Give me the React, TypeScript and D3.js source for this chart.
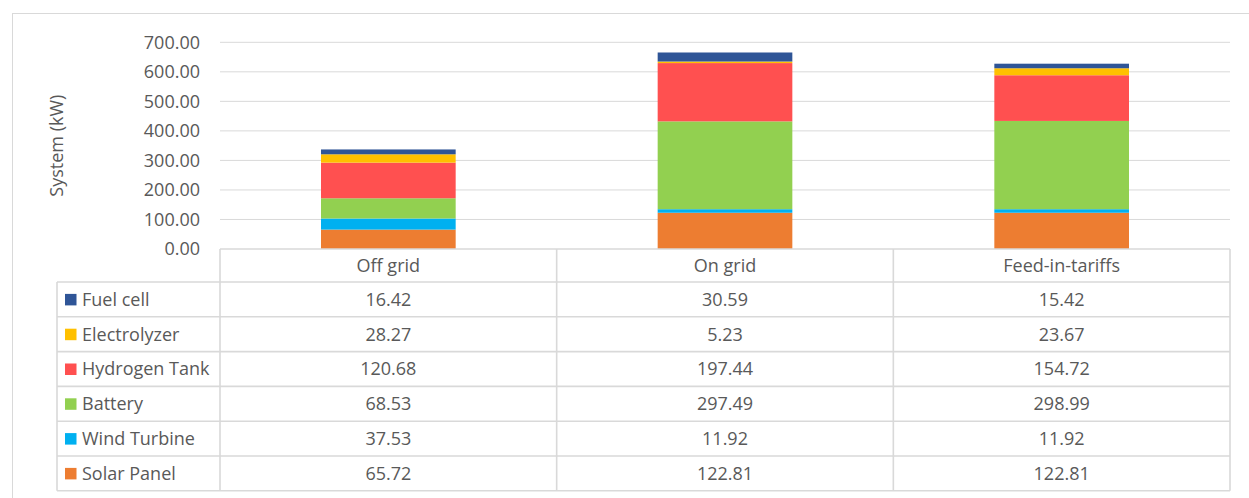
import React from "react";
import * as d3 from "d3";

const categories = ["Off grid", "On grid", "Feed-in-tariffs"];
const seriesNames = ["Solar Panel", "Wind Turbine", "Battery", "Hydrogen Tank", "Electrolyzer", "Fuel cell"];
const solarPanel = [65.72, 122.81, 122.81];
const windTurbine = [37.53, 11.92, 11.92];
const battery = [68.53, 297.49, 298.99];
const hydrogenTank = [120.68, 197.44, 154.72];
const electrolyzer = [28.27, 5.23, 23.67];
const fuelCell = [16.42, 30.59, 15.42];
const yTicks = [0, 100, 200, 300, 400, 500, 600, 700];
const colors = ["#ED7D31", "#00B0F0", "#92D050", "#FF5050", "#FFC000", "#2F5597"];

const seriesValues = [solarPanel, windTurbine, battery, hydrogenTank, electrolyzer, fuelCell];

export default function App() {
  const W = 1249, H = 498;
  const plotL = 220, plotR = 1230, y0 = 249, yTop = 42.3;
  const tableL = 57, headerH = 33, rowH = 34.8;
  const font = "'Open Sans', sans-serif";
  const fs = 18;
  const txt = "#595959";
  const grid = "#D9D9D9";

  const x = d3.scaleBand<string>().domain(categories).range([plotL, plotR]).paddingInner(0.6).paddingOuter(0.3);
  const y = d3.scaleLinear().domain([0, 700]).range([y0, yTop]);
  const colX = d3.scaleBand<string>().domain(categories).range([plotL, plotR]);

  const table = categories.map((c, i) => {
    const o: any = { cat: c };
    seriesNames.forEach((s, j) => (o[s] = seriesValues[j][i]));
    return o;
  });
  const stacked = d3.stack<any>().keys(seriesNames)(table);

  const rowsOrder = seriesNames.slice().reverse();
  const rowTop = (k: number) => y0 + headerH + k * rowH;
  const tableBottom = rowTop(rowsOrder.length);

  return (
    <svg width={W} height={H} style={{ position: "absolute", left: 0, top: 0 }} fontFamily={font}>
      <rect x={0} y={0} width={W} height={H} fill="#fff" />
      <rect x={12.5} y={13.5} width={W + 20} height={H + 20} fill="none" stroke={grid} strokeWidth={1} />
      {yTicks.filter((t) => t > 0).map((t) => (
        <line key={t} x1={plotL} x2={plotR} y1={y(t)} y2={y(t)} stroke={grid} strokeWidth={1} />
      ))}
      {yTicks.map((t) => (
        <text key={t} x={200} y={y(t)} dy="0.35em" textAnchor="end" fontSize={fs} fill={txt}>
          {t.toFixed(2)}
        </text>
      ))}
      <text transform={`translate(63,${(yTop + y0) / 2}) rotate(-90)`} textAnchor="middle" fontSize={fs} fill={txt}>
        System (kW)
      </text>
      {stacked.map((layer, j) => (
        <g key={layer.key} fill={colors[j]}>
          {layer.map((d, i) => (
            <rect key={i} x={x(categories[i])} width={x.bandwidth()} y={y(d[1])} height={y(d[0]) - y(d[1])} />
          ))}
        </g>
      ))}
      {/* table lines */}
      <g stroke={grid} strokeWidth={1.6} fill="none">
        <line x1={plotL} x2={plotR} y1={y0} y2={y0} />
        {rowsOrder.map((_, k) => (
          <line key={k} x1={tableL} x2={plotR} y1={rowTop(k)} y2={rowTop(k)} />
        ))}
        <line x1={tableL} x2={plotR} y1={tableBottom} y2={tableBottom} />
        <line x1={tableL} x2={tableL} y1={rowTop(0)} y2={tableBottom} />
        {categories.map((c) => (
          <line key={c} x1={colX(c)} x2={colX(c)} y1={y0} y2={tableBottom} />
        ))}
        <line x1={plotR} x2={plotR} y1={y0} y2={tableBottom} />
      </g>
      {categories.map((c) => (
        <text key={c} x={(colX(c) as number) + colX.bandwidth() / 2} y={y0 + headerH / 2} dy="0.35em" textAnchor="middle" fontSize={fs} fill={txt}>
          {c}
        </text>
      ))}
      {rowsOrder.map((s, k) => {
        const j = seriesNames.indexOf(s);
        const cy = rowTop(k) + rowH / 2;
        return (
          <g key={s}>
            <rect x={65} y={cy - 5.5} width={11.5} height={11.5} fill={colors[j]} />
            <text x={82} y={cy} dy="0.35em" fontSize={fs} fill={txt}>{s}</text>
            {categories.map((c, i) => (
              <text key={c} x={(colX(c) as number) + colX.bandwidth() / 2} y={cy} dy="0.35em" textAnchor="middle" fontSize={fs} fill={txt}>
                {seriesValues[j][i].toFixed(2)}
              </text>
            ))}
          </g>
        );
      })}
    </svg>
  );
}
